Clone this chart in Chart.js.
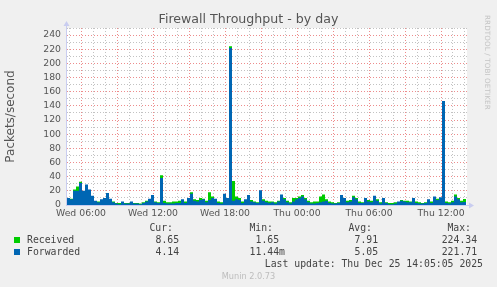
<!DOCTYPE html>
<html>
<head>
<meta charset="utf-8">
<script src="https://cdn.jsdelivr.net/npm/chart.js@4/dist/chart.umd.min.js"></script>
<style>
html, body { margin: 0; padding: 0; background: #f0f0f0; }
#wrap { position: relative; width: 497px; height: 287px; overflow: hidden; font-family: "DejaVu Sans", sans-serif; color: #555; }
#wrap canvas { position: absolute; left: 0; top: 0; }
.t { position: absolute; white-space: pre; line-height: 1; transform: translateY(-50%); }
.mono { font-family: "DejaVu Sans Mono", monospace; font-size: 9.8px; color: #444; }
.sq { position: absolute; width: 6px; height: 6px; }
</style>
</head>
<body>
<div id="wrap">
  <canvas id="chart" width="497" height="287"></canvas>
  <div class="t" style="left:0;width:497px;text-align:center;top:19px;font-size:12.6px;">Firewall Throughput - by day</div>
  <div class="t" style="left:484px;top:15px;transform:none;writing-mode:vertical-rl;font-size:7.2px;color:#c4c4c4;letter-spacing:0.1px;">RRDTOOL / TOBI OETIKER</div>
  <div id="legend"></div>
  <div class="t" style="left:0;width:497px;text-align:center;top:276px;font-size:8.2px;color:#bdbdbd;">Munin 2.0.73</div>
</div>
<script>
// rrd samples, one every 15 minutes starting Wed 04:50
const startHour = 4 + 50 / 60;
const stepHour = 0.25;
const endHour = startHour + 400 / 12;

const received = [4,10,9,22,26,33,18,22,15,10, 5,5,7,8,12,8,5,3,3,4, 3,3,4,3,3,2,4,6,8,12,
  5,4,42,6,4,4,5,5,6,6, 5,8,18,8,7,10,9,6,18,12, 8,5,4,14,8,224.3,34,12,10,5,
  6,12,7,5,4,18,8,6,5,5, 4,6,13,10,6,4,10,10,12,14, 10,6,4,5,5,12,15,8,5,4,
  3,4,12,9,6,7,13,10,5,4, 9,7,6,11,8,4,9,4,3,3, 4,4,7,6,6,5,9,5,4,3,
  4,7,5,10,9,9,140,5,4,6, 15,10,6,8.65];
const forwarded = [3,10,8,20,20,31,20,29,22,13, 6,4,8,10,17,9,4,2,1,5, 2,2,5,2,2,1,3,5,9,14,
  4,3,38,3,2,2,2,3,3,8, 3,10,16,6,5,7,8,4,7,10, 9,3,2,16,10,221.7,6,8,7,3,
  8,14,5,4,3,21,6,4,3,4, 2,5,15,8,4,2,5,8,10,12, 8,4,2,2,3,4,5,6,3,2,
  2,3,14,10,4,5,11,8,3,3, 10,5,4,13,6,2,10,3,1,1, 2,5,6,5,4,4,10,3,2,2,
  3,8,3,12,7,11,147,3,2,4, 12,8,4,4.14];

const yTicks = [0,10,20,30,40,50,60,70,80,90,100,110,120,130,140,150,160,170,180,190,200,210,220,230,240,250];
const xTickHours = [5,6,7,8,9,10,11,12,13,14,15,16,17,18,19,20,21,22,23,24,25,26,27,28,29,30,31,32,33,34,35,36,37,38];
const dayNames = ['Wed', 'Thu'];

const legendHeads = ['Cur:', 'Min:', 'Avg:', 'Max:'];
const legendRows = [
  { name: 'Received', color: '#00cc00', vals: ['8.65 ', '1.65 ', '7.91 ', '224.34 '] },
  { name: 'Forwarded', color: '#0066b3', vals: ['4.14 ', '11.44m', '5.05 ', '221.71 '] }
];
const lastUpdate = 'Last update: Thu Dec 25 14:05:05 2025';

const MGRID = 'rgba(226,70,70,0.62)';
const GRID = 'rgba(120,120,120,0.45)';

function pts(arr) { return arr.map((v, i) => ({ x: startHour + i * stepHour, y: v })); }

function hourLabel(h) {
  if (h % 6 !== 0) return '';
  const d = dayNames[Math.floor(h / 24)];
  return d + ' ' + String(h % 24).padStart(2, '0') + ':00';
}

const frame = {
  id: 'frame',
  beforeDraw(chart) {
    const a = chart.chartArea, c = chart.ctx;
    c.save();
    c.fillStyle = '#ffffff';
    c.fillRect(a.left, a.top, a.right - a.left, a.bottom - a.top);
    c.restore();
  },
  afterDatasetsDraw(chart) {
    const a = chart.chartArea, c = chart.ctx;
    c.save();
    c.strokeStyle = '#c9cdf0';
    c.fillStyle = '#c9cdf0';
    c.lineWidth = 1;
    c.beginPath();
    c.moveTo(a.left - 0.5, a.bottom + 0.5); c.lineTo(a.left - 0.5, a.top - 4);
    c.moveTo(a.left - 1, a.bottom + 0.5); c.lineTo(a.right + 3, a.bottom + 0.5);
    c.stroke();
    c.beginPath();
    c.moveTo(a.left - 3.5, a.top - 2); c.lineTo(a.left + 2.5, a.top - 2); c.lineTo(a.left - 0.5, a.top - 7);
    c.closePath(); c.fill();
    c.beginPath();
    c.moveTo(a.right + 2, a.bottom - 2.5); c.lineTo(a.right + 2, a.bottom + 3.5); c.lineTo(a.right + 7, a.bottom + 0.5);
    c.closePath(); c.fill();
    c.restore();
  }
};

new Chart(document.getElementById('chart'), {
  type: 'line',
  data: {
    datasets: [
      { label: 'Received', data: pts(received), order: 2, stepped: 'after', fill: 'origin',
        backgroundColor: '#00cc00', borderColor: '#00cc00', borderWidth: 0, pointRadius: 0 },
      { label: 'Forwarded', data: pts(forwarded), order: 1, stepped: 'after', fill: 'origin',
        backgroundColor: '#0066b3', borderColor: '#0066b3', borderWidth: 0, pointRadius: 0 }
    ]
  },
  options: {
    responsive: false, animation: false, maintainAspectRatio: false,
    layout: { padding: { left: 0, top: 28, right: 30, bottom: 62 } },
    plugins: { legend: { display: false }, tooltip: { enabled: false } },
    scales: {
      x: {
        type: 'linear', min: startHour, max: endHour,
        afterBuildTicks: s => { s.ticks = xTickHours.map(v => ({ value: v })); },
        afterFit: s => { s.height = 20; },
        ticks: { autoSkip: false, maxRotation: 0, padding: 3, color: '#555',
          font: { family: 'DejaVu Sans', size: 9.3 }, callback: v => hourLabel(v) },
        grid: { drawTicks: false, lineWidth: 1, borderDash: [1, 2],
          color: c => (c.tick && c.tick.value % 3 === 0) ? MGRID : GRID },
        border: { display: false, dash: [1, 2] }
      },
      y: {
        min: 0, max: 250,
        afterBuildTicks: s => { s.ticks = yTicks.map(v => ({ value: v })); },
        afterFit: s => { s.width = 67; },
        ticks: { autoSkip: false, padding: 6, color: '#555',
          font: { family: 'DejaVu Sans', size: 9.3 },
          callback: v => (v % 20 === 0 && v < 250) ? String(v) : '' },
        grid: { drawTicks: false, lineWidth: 1, borderDash: [1, 2],
          color: c => (c.tick && c.tick.value % 20 === 0 && c.tick.value < 250) ? MGRID : GRID },
        border: { display: false, dash: [1, 2] },
        title: { display: true, text: 'Packets/second', color: '#555', padding: { top: 4, bottom: 0 },
          font: { family: 'DejaVu Sans', size: 12 } }
      }
    }
  },
  plugins: [frame]
});

// text legend under the graph, rrdtool style
(function () {
  const el = document.getElementById('legend');
  let html = '';
  const put = (txt, right, y) => { html += `<div class="t mono" style="right:${497 - right}px;top:${y}px;">${txt}</div>`; };
  const headRight = [173, 273, 372, 471];
  const valRight = [185, 285, 384, 483];
  legendHeads.forEach((h, i) => put(h, headRight[i], 228));
  legendRows.forEach((r, k) => {
    const y = 240 + k * 12;
    html += `<div class="sq" style="left:14px;top:${y - 3}px;background:${r.color};"></div>`;
    html += `<div class="t mono" style="left:27px;top:${y}px;">${r.name}</div>`;
    r.vals.forEach((v, i) => put(v, valRight[i], y));
  });
  put(lastUpdate, 483, 264);
  el.innerHTML = html;
})();
</script>
</body>
</html>
